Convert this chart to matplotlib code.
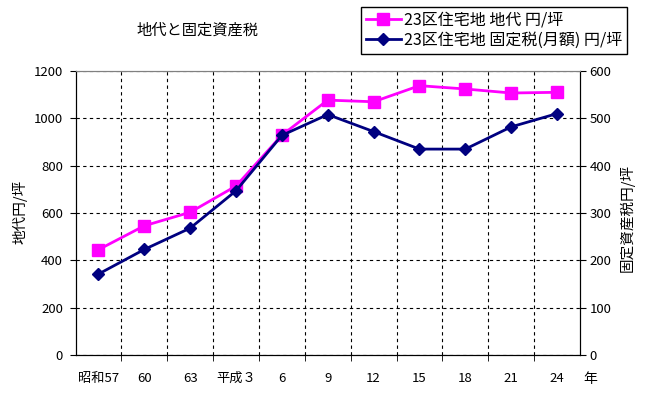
import numpy as np
import matplotlib.pyplot as plt
from matplotlib.ticker import MultipleLocator

plt.rcParams['font.family'] = ['Noto Sans CJK JP', 'DejaVu Sans']

years = ['昭和57', '60', '63', '平成３', '6', '9', '12', '15', '18', '21', '24']
chidai = [445, 546, 603, 714, 929, 1077, 1070, 1138, 1124, 1107, 1110]
koteizei = [171, 223, 268, 347, 464, 508, 472, 435, 435, 482, 510]

fig = plt.figure(figsize=(6.49, 3.98), dpi=100)
ax = fig.add_axes([75.5 / 649, 1 - 355 / 398, 504.5 / 649, 284 / 398])
ax2 = ax.twinx()

x = np.arange(len(years))
l1, = ax.plot(x, chidai, color='#FF00FF', marker='s', markersize=8, linewidth=2,
              label='23区住宅地 地代 円/坪', zorder=3)
l2, = ax2.plot(x, koteizei, color='#000080', marker='D', markersize=6.5, linewidth=2,
               label='23区住宅地 固定税(月額) 円/坪', zorder=3)

ax.set_xlim(-0.5, len(years) - 0.5)
ax.set_ylim(0, 1200)
ax2.set_ylim(0, 600)
ax.yaxis.set_major_locator(MultipleLocator(200))
ax2.yaxis.set_major_locator(MultipleLocator(100))

ax.set_xticks(x)
ax.set_xticklabels(years)
ax.set_xticks(np.arange(0.5, len(years) - 0.5, 1), minor=True)
ax.tick_params(axis='x', which='major', length=0, pad=12, labelsize=9.5)
ax.tick_params(axis='x', which='minor', length=4, direction='out')
ax.tick_params(axis='y', length=4, direction='out', labelsize=9.5, pad=5)
ax2.tick_params(axis='y', length=4, direction='out', labelsize=9.5, pad=3)

ax.grid(True, which='minor', axis='x', color='black', linestyle=(0, (3, 3)), linewidth=0.8)
ax.grid(True, which='major', axis='y', color='black', linestyle=(0, (3, 3)), linewidth=0.8)
ax.set_axisbelow(True)

ax.spines['top'].set_color('#808080')
ax2.spines['top'].set_color('#808080')

ax.set_ylabel('地代円/坪', fontsize=10.5)
ax.yaxis.set_label_coords(28 / 649, 1 - 212 / 398, transform=fig.transFigure)
ax2.set_ylabel('固定資産税円/坪', fontsize=10.5)
ax2.yaxis.set_label_coords(620 / 649, 1 - 218 / 398, transform=fig.transFigure)

fig.text(197 / 649, 1 - 30 / 398, '地代と固定資産税', fontsize=11, ha='center', va='center')
fig.text(590 / 649, 1 - 379 / 398, '年', fontsize=10, ha='center', va='center')

fig.legend(handles=[l1, l2], loc='upper left', bbox_to_anchor=(361 / 649, 1 - 7 / 398),
           borderaxespad=0, fancybox=False, edgecolor='black', framealpha=1,
           fontsize=11.5, handlelength=2.2, handletextpad=0.2, labelspacing=0.2,
           borderpad=0.3)

plt.savefig('out.png', dpi=100)
plt.close()
